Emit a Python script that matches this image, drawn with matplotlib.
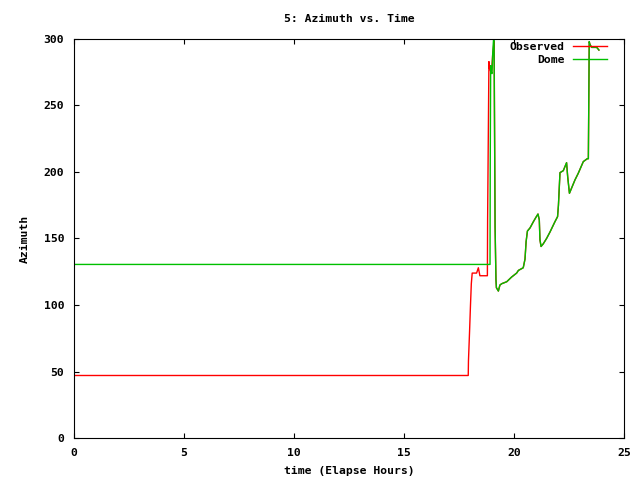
import matplotlib
matplotlib.use("Agg")
import matplotlib.pyplot as plt

# shared part of the track after the big swing
tail_t = [19.20, 19.29, 19.36, 19.44, 19.67, 19.89, 20.12, 20.20, 20.42, 20.50,
          20.55, 20.61, 20.73, 20.88, 21.00, 21.09, 21.15, 21.18, 21.23, 21.33,
          21.48, 21.64, 21.86, 21.98, 22.02, 22.09, 22.24, 22.39, 22.44, 22.52,
          22.62, 22.77, 22.92, 23.15, 23.33, 23.38, 23.40, 23.42, 23.45, 23.53,
          23.76, 23.86]
tail_az = [113, 110.5, 115, 116, 117.5, 121, 124, 126, 128, 134.5,
           147.6, 155.6, 158, 162.6, 166, 168.4, 164, 149, 144, 146,
           150, 155, 162.6, 166.4, 175, 199.5, 201, 207, 196.5, 184,
           188, 194, 199, 207.8, 210, 210, 254.6, 298, 296, 293.7,
           293.7, 291.7]

obs_t = [0, 17.92, 17.93, 17.98, 18.02, 18.06, 18.10, 18.30, 18.38, 18.45,
         18.79, 18.80, 18.84, 18.86, 18.88, 18.90, 18.93, 18.98, 19.03, 19.08,
         19.10, 19.11, 19.14, 19.18] + tail_t
obs_az = [47, 47, 58, 80, 99, 116, 124, 124, 128, 122,
          122, 163, 243, 283, 278, 280, 276, 275, 288, 296,
          298, 252, 159, 119] + tail_az

dome_t = [0, 18.91, 18.92, 18.94, 18.97, 19.00, 19.03, 19.06, 19.09, 19.11,
          19.14, 19.18] + tail_t
dome_az = [130.5, 130.5, 205, 280, 275, 274, 288, 297, 305, 252,
           159, 119] + tail_az

xticks = [0, 5, 10, 15, 20, 25]
yticks = [0, 50, 100, 150, 200, 250, 300]

plt.rcParams['font.family'] = ['DejaVu Sans Mono']
plt.rcParams['font.weight'] = 'bold'
plt.rcParams['font.size'] = 8.2

fig = plt.figure(figsize=(6.4, 4.8), dpi=100)
ax = fig.add_axes([74 / 640, 42 / 480, 550 / 640, 399 / 480])

ax.plot(obs_t, obs_az, color='#ff0000', lw=1.0, label='Observed')
ax.plot(dome_t, dome_az, color='#00c000', lw=1.0, label='Dome')

ax.set_xlim(0, 25)
ax.set_ylim(0, 300)
ax.set_xticks(xticks)
ax.set_yticks(yticks)
ax.tick_params(direction='in', length=3.5, width=0.8, top=True, right=True, pad=7)
for s in ax.spines.values():
    s.set_linewidth(0.8)

ax.set_title('5: Azimuth vs. Time', pad=12, fontweight='bold', fontsize=8.2)
ax.set_xlabel('time (Elapse Hours)', labelpad=6, fontweight='bold')
ax.set_ylabel('Azimuth', labelpad=10, fontweight='bold')

leg = ax.legend(loc='upper right', frameon=False, markerfirst=False,
                handlelength=3.0, handletextpad=0.7, labelspacing=0.25,
                borderaxespad=0, borderpad=0.3,
                bbox_to_anchor=(0.975, 1.0))

fig.savefig('out.png', dpi=100)
